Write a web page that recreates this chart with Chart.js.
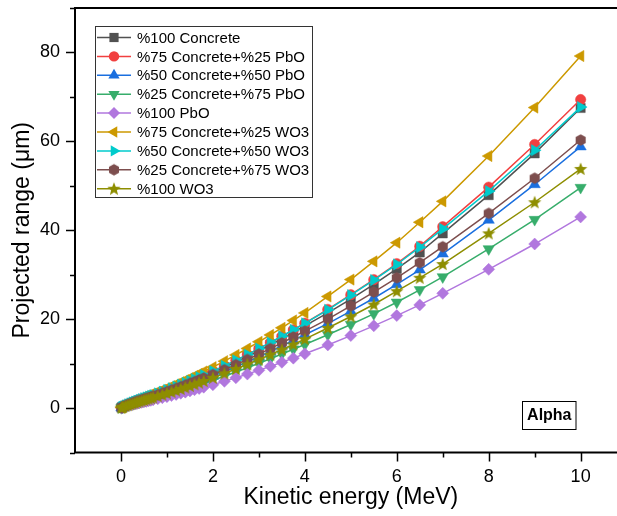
<!DOCTYPE html>
<html>
<head>
<meta charset="utf-8">
<script src="https://cdn.jsdelivr.net/npm/chart.js@4/dist/chart.umd.min.js"></script>
<style>
  html, body { margin: 0; padding: 0; background: #fff; overflow: hidden; }
  #wrap { width: 640px; height: 516px; }
</style>
</head>
<body>
<div id="wrap"><canvas id="c" width="640" height="516"></canvas></div>
<script>
// ---------------- data ----------------
const energy = [0.01,0.03,0.05,0.1,0.15,0.2,0.25,0.3,0.35,0.4,0.45,0.5,0.55,0.6,0.65,0.7,0.8,0.9,1.0,1.1,1.2,1.3,1.4,1.5,1.6,1.7,1.8,2.0,2.25,2.5,2.75,3.0,3.25,3.5,3.75,4.0,4.5,5.0,5.5,6.0,6.5,7.0,8.0,9.0,10.0];

const concrete100 = [0.10,0.23,0.34,0.57,0.79,1.00,1.20,1.39,1.58,1.77,1.95,2.12,2.30,2.47,2.64,2.82,3.18,3.54,3.92,4.29,4.67,5.06,5.46,5.87,6.29,6.72,7.15,8.00,9.17,10.37,11.62,12.90,14.23,15.60,17.02,18.50,21.40,24.50,27.80,31.30,35.00,39.30,47.90,57.30,67.50];
const c75pbo25 = [0.11,0.24,0.35,0.59,0.82,1.04,1.24,1.44,1.64,1.83,2.02,2.20,2.38,2.56,2.74,2.92,3.29,3.66,4.05,4.44,4.83,5.24,5.65,6.08,6.51,6.95,7.40,8.28,9.48,10.73,12.02,13.36,14.73,16.14,17.60,19.10,22.20,25.50,28.90,32.50,36.40,40.80,49.70,59.30,69.40];
const c50pbo50 = [0.09,0.21,0.30,0.51,0.71,0.90,1.08,1.25,1.42,1.58,1.75,1.90,2.06,2.22,2.37,2.53,2.85,3.17,3.51,3.85,4.19,4.54,4.90,5.27,5.64,6.02,6.41,7.18,8.22,9.30,10.41,11.56,12.74,13.96,15.21,16.50,19.00,21.80,24.70,27.80,31.10,34.70,42.30,50.30,58.80];
const c25pbo75 = [0.08,0.18,0.27,0.45,0.62,0.78,0.94,1.09,1.24,1.38,1.52,1.66,1.80,1.93,2.07,2.20,2.48,2.77,3.06,3.35,3.65,3.96,4.27,4.59,4.92,5.25,5.59,6.26,7.16,8.10,9.07,10.07,11.10,12.15,13.24,14.30,16.50,18.80,21.20,23.80,26.60,29.50,35.80,42.40,49.60];
const pbo100 = [0.07,0.15,0.22,0.38,0.52,0.66,0.79,0.91,1.04,1.16,1.28,1.39,1.50,1.62,1.73,1.85,2.08,2.32,2.57,2.81,3.06,3.32,3.58,3.85,4.12,4.40,4.69,5.24,6.01,6.81,7.64,8.49,9.38,10.29,11.23,12.20,14.20,16.30,18.50,20.80,23.20,25.80,31.20,36.90,43.00];
const c75wo25 = [0.12,0.27,0.39,0.66,0.91,1.15,1.38,1.60,1.82,2.03,2.24,2.44,2.64,2.84,3.04,3.24,3.65,4.07,4.50,4.93,5.37,5.82,6.28,6.75,7.23,7.72,8.22,9.20,10.55,11.95,13.40,14.90,16.45,18.05,19.70,21.40,25.10,28.90,33.00,37.20,41.80,46.50,56.70,67.60,79.20];
const c50wo50 = [0.11,0.25,0.36,0.60,0.83,1.05,1.25,1.45,1.65,1.84,2.03,2.21,2.39,2.57,2.75,2.93,3.30,3.67,4.06,4.45,4.84,5.25,5.66,6.09,6.52,6.96,7.41,8.29,9.49,10.74,12.03,13.37,14.74,16.15,17.61,19.05,22.10,25.40,28.80,32.30,36.20,40.30,48.80,58.00,67.70];
const c25wo75 = [0.10,0.22,0.32,0.54,0.75,0.94,1.13,1.31,1.49,1.66,1.84,2.00,2.16,2.33,2.49,2.66,2.99,3.34,3.69,4.04,4.40,4.77,5.15,5.54,5.93,6.33,6.74,7.54,8.63,9.76,10.93,12.14,13.38,14.66,15.98,17.30,20.00,23.00,26.10,29.30,32.70,36.30,43.80,51.70,60.30];
const wo100 = [0.09,0.20,0.29,0.49,0.67,0.85,1.02,1.18,1.35,1.50,1.66,1.81,1.95,2.10,2.25,2.40,2.70,3.01,3.33,3.65,3.97,4.31,4.65,5.00,5.35,5.71,6.08,6.81,7.79,8.80,9.84,10.91,12.01,13.14,14.30,15.50,18.00,20.60,23.30,26.30,29.30,32.40,39.30,46.30,53.80];

const seriesLabels = ['%100 Concrete','%75 Concrete+%25 PbO','%50 Concrete+%50 PbO','%25 Concrete+%75 PbO','%100 PbO','%75 Concrete+%25 WO3','%50 Concrete+%50 WO3','%25 Concrete+%75 WO3','%100 WO3'];
const seriesValues = [concrete100, c75pbo25, c50pbo50, c25pbo75, pbo100, c75wo25, c50wo50, c25wo75, wo100];
const seriesColors = ['#515151','#F14040','#1A6FDF','#37AD6B','#B177DE','#CC9900','#00CBCC','#7D4E4E','#8E8E00'];

const xTickLabels = [0,2,4,6,8,10];
const xMinorTicks = [1,3,5,7,9];
const yTickLabels = [0,20,40,60,80];
const yMinorTicks = [-10,10,30,50,70,90];
const xTitle = 'Kinetic energy (MeV)';
const yTitle = 'Projected range (\u03BCm)';
const panelLabel = 'Alpha';

// ---------------- custom markers ----------------
function makeHexagon(color, r) {
  const s = Math.ceil(2 * r + 2);
  const c = document.createElement('canvas');
  c.width = s; c.height = s;
  const g = c.getContext('2d');
  g.fillStyle = color;
  g.beginPath();
  for (let k = 0; k < 6; k++) {
    const a = Math.PI / 3 * k - Math.PI / 2;
    const px = s / 2 + r * Math.cos(a), py = s / 2 + r * Math.sin(a);
    k ? g.lineTo(px, py) : g.moveTo(px, py);
  }
  g.closePath(); g.fill();
  return c;
}
function makeStar(color, R, ri) {
  const s = Math.ceil(2 * R + 2);
  const c = document.createElement('canvas');
  c.width = s; c.height = s;
  const g = c.getContext('2d');
  g.fillStyle = color;
  g.beginPath();
  for (let k = 0; k < 10; k++) {
    const rr = k % 2 ? ri : R;
    const a = Math.PI / 5 * k - Math.PI / 2;
    const px = s / 2 + rr * Math.cos(a), py = s / 2 + 0.5 + rr * Math.sin(a);
    k ? g.lineTo(px, py) : g.moveTo(px, py);
  }
  g.closePath(); g.fill();
  return c;
}

const markerDefs = [
  { style: 'rect', radius: 6.5, rotation: 0 },
  { style: 'circle', radius: 5.2, rotation: 0 },
  { style: 'triangle', radius: 6.5, rotation: 0 },
  { style: 'triangle', radius: 6.5, rotation: 180 },
  { style: 'rectRot', radius: 6, rotation: 0 },
  { style: 'triangle', radius: 6.5, rotation: -90 },
  { style: 'triangle', radius: 6.5, rotation: 90 },
  { style: makeHexagon(seriesColors[7], 5.8), radius: 6, rotation: 0 },
  { style: makeStar(seriesColors[8], 7, 3), radius: 6, rotation: 0 }
];

const datasets = seriesLabels.map((lab, i) => ({
  label: lab,
  data: energy.map((e, j) => ({ x: e, y: seriesValues[i][j] })),
  showLine: true,
  borderColor: seriesColors[i],
  backgroundColor: seriesColors[i],
  borderWidth: 1.5,
  pointStyle: markerDefs[i].style,
  pointRadius: markerDefs[i].radius,
  pointRotation: markerDefs[i].rotation,
  pointBackgroundColor: seriesColors[i],
  pointBorderColor: seriesColors[i],
  pointBorderWidth: 0.5,
  tension: 0,
  order: 9 - i
}));

// ---------------- draw helpers ----------------
function drawMarker(ctx, def, color, x, y) {
  ctx.save();
  ctx.fillStyle = color;
  const st = def.style;
  if (typeof st !== 'string') {
    ctx.drawImage(st, x - st.width / 2, y - st.height / 2);
    ctx.restore();
    return;
  }
  const r = def.radius;
  ctx.beginPath();
  if (st === 'circle') {
    ctx.arc(x, y, r, 0, Math.PI * 2);
  } else if (st === 'rect') {
    const s = Math.SQRT1_2 * r;
    ctx.rect(x - s, y - s, 2 * s, 2 * s);
  } else if (st === 'rectRot') {
    ctx.moveTo(x, y - r); ctx.lineTo(x + r, y); ctx.lineTo(x, y + r); ctx.lineTo(x - r, y);
  } else if (st === 'triangle') {
    let rad = def.rotation * Math.PI / 180;
    for (let k = 0; k < 3; k++) {
      const px = x + Math.sin(rad) * r, py = y - Math.cos(rad) * r;
      k ? ctx.lineTo(px, py) : ctx.moveTo(px, py);
      rad += 2 * Math.PI / 3;
    }
  }
  ctx.closePath();
  ctx.fill();
  ctx.restore();
}

const FONT = "'Liberation Sans', Arial, Helvetica, sans-serif";

const framePlugin = {
  id: 'framePlugin',
  afterDraw(chart) {
    const ctx = chart.ctx;
    const a = chart.chartArea;
    const xs = chart.scales.x, ys = chart.scales.y;
    ctx.save();
    // frame
    ctx.strokeStyle = '#000';
    ctx.lineWidth = 2;
    ctx.strokeRect(a.left, a.top, a.right - a.left, a.bottom - a.top);
    // ticks
    ctx.lineWidth = 1.5;
    ctx.beginPath();
    xTickLabels.forEach(v => { const p = Math.round(xs.getPixelForValue(v)) + 0.5; ctx.moveTo(p, a.bottom); ctx.lineTo(p, a.bottom + 9); });
    xMinorTicks.forEach(v => { const p = Math.round(xs.getPixelForValue(v)) + 0.5; ctx.moveTo(p, a.bottom); ctx.lineTo(p, a.bottom + 5); });
    yTickLabels.forEach(v => { const p = Math.round(ys.getPixelForValue(v)) + 0.5; ctx.moveTo(a.left, p); ctx.lineTo(a.left - 9, p); });
    yMinorTicks.forEach(v => { const p = Math.round(ys.getPixelForValue(v)) + 0.5; ctx.moveTo(a.left, p); ctx.lineTo(a.left - 5, p); });
    ctx.stroke();

    // legend
    const L = { x: 95.5, y: 26.5, w: 217, h: 171 };
    ctx.fillStyle = '#fff';
    ctx.fillRect(L.x, L.y, L.w, L.h);
    ctx.strokeStyle = '#333';
    ctx.lineWidth = 1;
    ctx.strokeRect(L.x, L.y, L.w, L.h);
    ctx.font = '15px ' + FONT;
    ctx.textBaseline = 'middle';
    ctx.textAlign = 'left';
    seriesLabels.forEach((lab, i) => {
      const cy = 37.5 + i * 18.9;
      ctx.strokeStyle = seriesColors[i];
      ctx.lineWidth = 1.5;
      ctx.beginPath();
      ctx.moveTo(97, cy); ctx.lineTo(131, cy);
      ctx.stroke();
      drawMarker(ctx, markerDefs[i], seriesColors[i], 114, cy);
      ctx.fillStyle = '#000';
      ctx.fillText(lab, 137, cy + 1);
    });

    // panel label
    ctx.strokeStyle = '#000';
    ctx.lineWidth = 1;
    ctx.strokeRect(522.5, 401.5, 53.5, 28);
    ctx.font = 'bold 16px ' + FONT;
    ctx.fillStyle = '#000';
    ctx.textAlign = 'center';
    ctx.textBaseline = 'middle';
    ctx.fillText(panelLabel, 549.3, 416);
    ctx.restore();
  }
};

Chart.defaults.font.family = FONT;
Chart.defaults.color = '#000';

new Chart(document.getElementById('c'), {
  type: 'scatter',
  data: { datasets },
  options: {
    responsive: false,
    devicePixelRatio: 1,
    animation: false,
    events: [],
    layout: { padding: { top: 8, left: 0, right: 13.4, bottom: 0 } },
    plugins: { legend: { display: false }, tooltip: { enabled: false } },
    scales: {
      x: {
        type: 'linear', min: -1, max: 11,
        afterBuildTicks: s => { s.ticks = xTickLabels.map(v => ({ value: v })); },
        afterFit: s => { s.height = 63.5; s.paddingLeft = 0; s.paddingRight = 0; },
        grid: { display: true, drawOnChartArea: false, drawTicks: true, tickLength: 9, color: 'rgba(0,0,0,0)' },
        border: { display: false },
        ticks: { font: { size: 18 }, color: '#000', padding: 5, maxRotation: 0, autoSkip: false },
        title: { display: true, text: xTitle, font: { size: 23 }, color: '#000', padding: { top: 0, bottom: 5 } }
      },
      y: {
        type: 'linear', min: -10, max: 90,
        afterBuildTicks: s => { s.ticks = yTickLabels.map(v => ({ value: v })); },
        afterFit: s => { s.width = 75; s.paddingTop = 0; s.paddingBottom = 0; },
        grid: { display: true, drawOnChartArea: false, drawTicks: true, tickLength: 9, color: 'rgba(0,0,0,0)' },
        border: { display: false },
        ticks: { font: { size: 18 }, color: '#000', padding: 6, autoSkip: false },
        title: { display: true, text: yTitle, font: { size: 23 }, color: '#000', padding: { top: 9, bottom: 0 } }
      }
    }
  },
  plugins: [framePlugin]
});
</script>
</body>
</html>
